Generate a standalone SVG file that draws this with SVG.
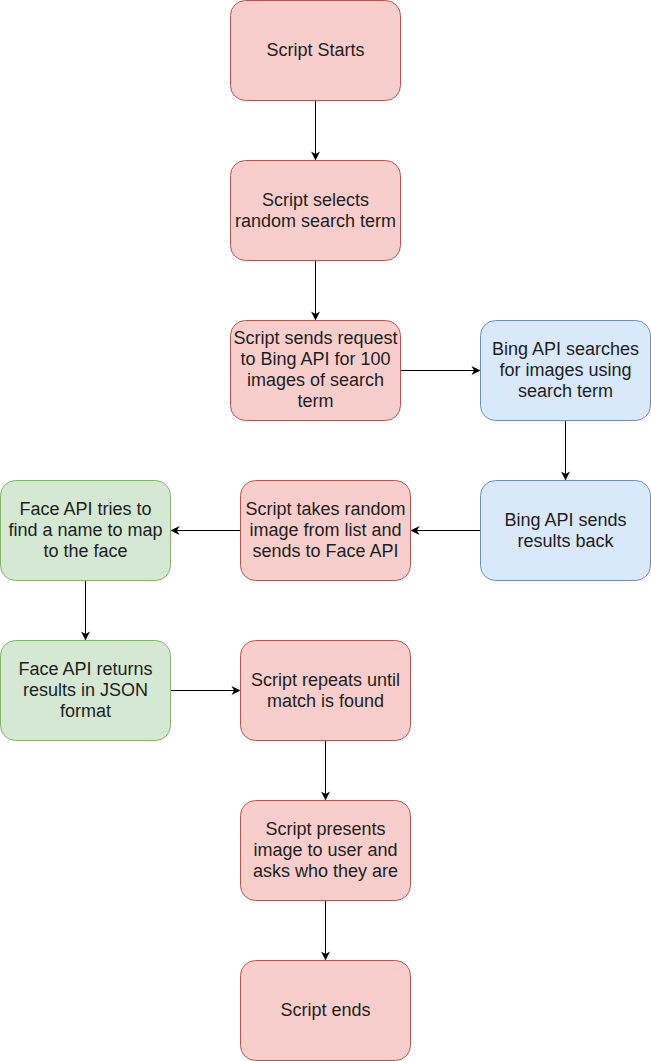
<svg xmlns="http://www.w3.org/2000/svg" width="651" height="1061" viewBox="0 0 651 1061">
<style>
rect{stroke-width:1}
.r{fill:#f8cecc;stroke:#b85450}
.b{fill:#dae8fc;stroke:#6c8ebf}
.g{fill:#d5e8d4;stroke:#82b366}
text{font-family:"Liberation Sans",Arial,sans-serif;font-size:18px;fill:#1e1e1e;text-anchor:middle}
.c path{stroke:#000;stroke-width:1;fill:none;marker-end:url(#a)}
</style>
<defs>
<marker id="a" viewBox="0 0 10 10" refX="9" refY="5" markerWidth="9" markerHeight="9" markerUnits="userSpaceOnUse" orient="auto">
<path d="M0,0 L10,5 L0,10 L3,5 Z" fill="#000"/>
</marker>
</defs>
<rect width="651" height="1061" fill="#fff"/>
<g class="c">
<path d="M315.5,100.5 V159.5"/>
<path d="M315.5,260.5 V319.5"/>
<path d="M400.5,370.5 H479.5"/>
<path d="M565.5,420.5 V479.5"/>
<path d="M480.5,530.5 H411.5"/>
<path d="M240.5,530.5 H171.5"/>
<path d="M85.5,580.5 V639.5"/>
<path d="M170.5,690.5 H239.5"/>
<path d="M325.5,740.5 V799.5"/>
<path d="M325.5,900.5 V959.5"/>
</g>
<g id="n1"><rect class="r" x="230.5" y="0.5" width="170" height="100" rx="15"/><text x="315.5" y="56">Script Starts</text></g>
<g id="n2"><rect class="r" x="230.5" y="160.5" width="170" height="100" rx="15"/><text x="315.5" y="206">Script selects</text><text x="315.5" y="227">random search term</text></g>
<g id="n3"><rect class="r" x="230.5" y="320.5" width="170" height="100" rx="15"/><text x="315.5" y="344">Script sends request</text><text x="315.5" y="365">to Bing API for 100</text><text x="315.5" y="386">images of search</text><text x="315.5" y="407">term</text></g>
<g id="n4"><rect class="b" x="480.5" y="320.5" width="170" height="100" rx="15"/><text x="565.5" y="355">Bing API searches</text><text x="565.5" y="376">for images using</text><text x="565.5" y="397">search term</text></g>
<g id="n5"><rect class="b" x="480.5" y="480.5" width="170" height="100" rx="15"/><text x="565.5" y="526">Bing API sends</text><text x="565.5" y="547">results back</text></g>
<g id="n6"><rect class="r" x="240.5" y="480.5" width="170" height="100" rx="15"/><text x="325.5" y="515">Script takes random</text><text x="325.5" y="536">image from list and</text><text x="325.5" y="557">sends to Face API</text></g>
<g id="n7"><rect class="g" x="0.5" y="480.5" width="170" height="100" rx="15"/><text x="85.5" y="515">Face API tries to</text><text x="85.5" y="536">find a name to map</text><text x="85.5" y="557">to the face</text></g>
<g id="n8"><rect class="g" x="0.5" y="640.5" width="170" height="100" rx="15"/><text x="85.5" y="675">Face API returns</text><text x="85.5" y="696">results in JSON</text><text x="85.5" y="717">format</text></g>
<g id="n9"><rect class="r" x="240.5" y="640.5" width="170" height="100" rx="15"/><text x="325.5" y="686">Script repeats until</text><text x="325.5" y="707">match is found</text></g>
<g id="n10"><rect class="r" x="240.5" y="800.5" width="170" height="100" rx="15"/><text x="325.5" y="835">Script presents</text><text x="325.5" y="856">image to user and</text><text x="325.5" y="877">asks who they are</text></g>
<g id="n11"><rect class="r" x="240.5" y="960.5" width="170" height="100" rx="15"/><text x="325.5" y="1016">Script ends</text></g>
</svg>
